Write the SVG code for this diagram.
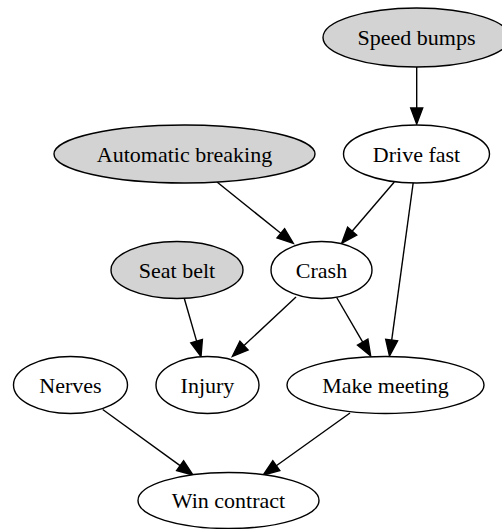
<svg xmlns="http://www.w3.org/2000/svg" width="502" height="529" viewBox="0 0 502 529">
<style>
.node ellipse{fill:#ffffff;stroke:#000000;stroke-width:1.4}
.node.gray ellipse{fill:#d3d3d3}
.node text{font-family:"Liberation Serif","Times New Roman",serif;font-size:22px;fill:#000000;text-anchor:middle}
.edges line{stroke:#000000;stroke-width:1.4}
.edges polygon{fill:#000000;stroke:#000000;stroke-width:1.4}
</style>
<rect width="502" height="529" fill="#ffffff"/>
<g class="edges" id="edges">
<line x1="416.7" y1="67" x2="416.7" y2="108"/>
<polygon points="416.7,124 410.7,108 422.7,108"/>
<line x1="217" y1="182" x2="280.8" y2="233.3"/>
<polygon points="293.3,243.3 277.0,238.0 284.6,228.6"/>
<line x1="394.3" y1="182" x2="352.1" y2="231.2"/>
<polygon points="341.7,243.3 347.6,227.3 356.7,235.1"/>
<line x1="413.3" y1="182" x2="391.7" y2="340.1"/>
<polygon points="389.5,356 385.7,339.3 397.6,340.9"/>
<line x1="336.7" y1="297.5" x2="362.7" y2="342.2"/>
<polygon points="370.7,356 357.5,345.2 367.9,339.2"/>
<line x1="296" y1="297" x2="244.0" y2="345.6"/>
<polygon points="232.3,356.5 239.9,341.2 248.1,350.0"/>
<line x1="184.3" y1="298.5" x2="196.6" y2="341.1"/>
<polygon points="201,356.5 190.8,342.8 202.4,339.5"/>
<line x1="102.7" y1="409.5" x2="180.1" y2="465.6"/>
<polygon points="193,475 176.6,470.5 183.6,460.8"/>
<line x1="350" y1="413" x2="276.3" y2="465.7"/>
<polygon points="263.3,475 272.8,460.8 279.8,470.6"/>
</g>
<g class="node gray" id="speed_bumps"><ellipse cx="416.5" cy="37.5" rx="93.5" ry="29.5"/><text x="416.5" y="45">Speed bumps</text></g>
<g class="node gray" id="automatic_breaking"><ellipse cx="184.5" cy="154" rx="130.5" ry="29"/><text x="184.5" y="161.5">Automatic breaking</text></g>
<g class="node" id="drive_fast"><ellipse cx="416.5" cy="154" rx="73" ry="29"/><text x="416.5" y="161.5">Drive fast</text></g>
<g class="node gray" id="seat_belt"><ellipse cx="177" cy="270" rx="66" ry="28.5"/><text x="177" y="277.5">Seat belt</text></g>
<g class="node" id="crash"><ellipse cx="321.5" cy="270" rx="50.5" ry="28.5"/><text x="321.5" y="277.5">Crash</text></g>
<g class="node" id="nerves"><ellipse cx="70.5" cy="385" rx="57" ry="28.5"/><text x="70.5" y="392.5">Nerves</text></g>
<g class="node" id="injury"><ellipse cx="207.5" cy="385" rx="51.5" ry="28.5"/><text x="207.5" y="392.5">Injury</text></g>
<g class="node" id="make_meeting"><ellipse cx="385.5" cy="385" rx="98.5" ry="28.5"/><text x="385.5" y="392.5">Make meeting</text></g>
<g class="node" id="win_contract"><ellipse cx="228.5" cy="500.5" rx="90.5" ry="28"/><text x="228.5" y="508">Win contract</text></g>
</svg>
